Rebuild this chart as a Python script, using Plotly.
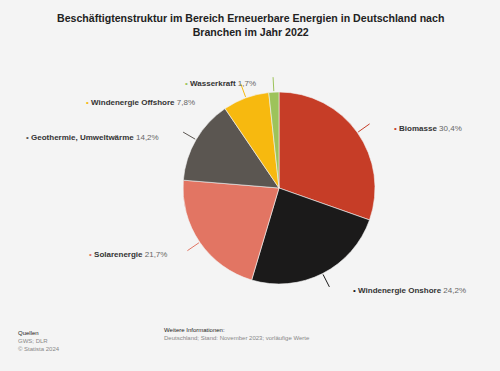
import math
import plotly.graph_objects as go

# ---- data ----
categories = ["Biomasse", "Windenergie Onshore", "Solarenergie",
              "Geothermie, Umweltwärme", "Windenergie Offshore", "Wasserkraft"]
values = [30.4, 24.2, 21.7, 14.2, 7.8, 1.7]
value_labels = ["30,4%", "24,2%", "21,7%", "14,2%", "7,8%", "1,7%"]

# ---- style ----
colors = ["#c63d27", "#1b1a1a", "#e27563", "#5b5651", "#f7b90f", "#9dc35a"]
W, H = 500, 371
CX, CY, R = 279, 188, 96
# label anchor (bullet) positions in pixels
label_pos = [(392, 129), (351, 290), (87, 254), (24, 137), (84, 102), (183, 83)]
FONT = "Liberation Sans, Arial, sans-serif"

fig = go.Figure()
fig.add_trace(go.Pie(
    labels=categories, values=values, sort=False, direction="clockwise",
    rotation=0, textinfo="none", hoverinfo="label+percent",
    marker=dict(colors=colors, line=dict(color="#f4f4f4", width=0.6)),
    domain=dict(x=[(CX - R) / W, (CX + R) / W],
                y=[(H - CY - R) / H, (H - CY + R) / H]),
    showlegend=False,
))

shapes = []
annotations = []
total = sum(values)
cum = 0.0
for cat, v, vl, col, (lx, ly) in zip(categories, values, value_labels, colors, label_pos):
    mid = (cum + v / 2) / total * 2 * math.pi
    cum += v
    sx, sy = CX + (R + 1) * math.sin(mid), CY - (R + 1) * math.cos(mid)
    ex, ey = CX + (R + 15) * math.sin(mid), CY - (R + 15) * math.cos(mid)
    shapes.append(dict(type="line", xref="paper", yref="paper",
                       x0=sx / W, y0=1 - sy / H, x1=ex / W, y1=1 - ey / H,
                       line=dict(color=col, width=1)))
    annotations.append(dict(
        xref="paper", yref="paper", x=lx / W, y=1 - ly / H,
        xanchor="left", yanchor="middle", showarrow=False,
        text=f"<span style='color:{col}'>•</span> <b>{cat}</b> "
             f"<span style='color:#666666'>{vl}</span>",
        font=dict(family=FONT, size=8, color="#333333"),
    ))

# title
annotations.append(dict(
    xref="paper", yref="paper", x=0.5, y=1 - 25 / H, xanchor="center", yanchor="middle",
    showarrow=False, align="center",
    text="<b>Beschäftigtenstruktur im Bereich Erneuerbare Energien in Deutschland nach"
         "<br>Branchen im Jahr 2022</b>",
    font=dict(family=FONT, size=10.6, color="#222222"),
))
# footer
annotations.append(dict(
    xref="paper", yref="paper", x=16 / W, y=1 - 328 / H, xanchor="left", yanchor="top",
    showarrow=False, align="left",
    text="<span style='color:#222222'>Quellen</span><br>GWS; DLR<br>© Statista 2024",
    font=dict(family=FONT, size=6, color="#888888"),
))
annotations.append(dict(
    xref="paper", yref="paper", x=162 / W, y=1 - 325 / H, xanchor="left", yanchor="top",
    showarrow=False, align="left",
    text="<span style='color:#222222'>Weitere Informationen:</span><br>"
         "Deutschland; Stand: November 2023; vorläufige Werte",
    font=dict(family=FONT, size=6, color="#888888"),
))

fig.update_layout(
    width=W, height=H, margin=dict(l=0, r=0, t=0, b=0),
    paper_bgcolor="#f4f4f4", plot_bgcolor="#f4f4f4",
    shapes=shapes, annotations=annotations,
)
fig.write_html("out.html", config={"displayModeBar": False},
               post_script="document.body.style.margin='0';")
